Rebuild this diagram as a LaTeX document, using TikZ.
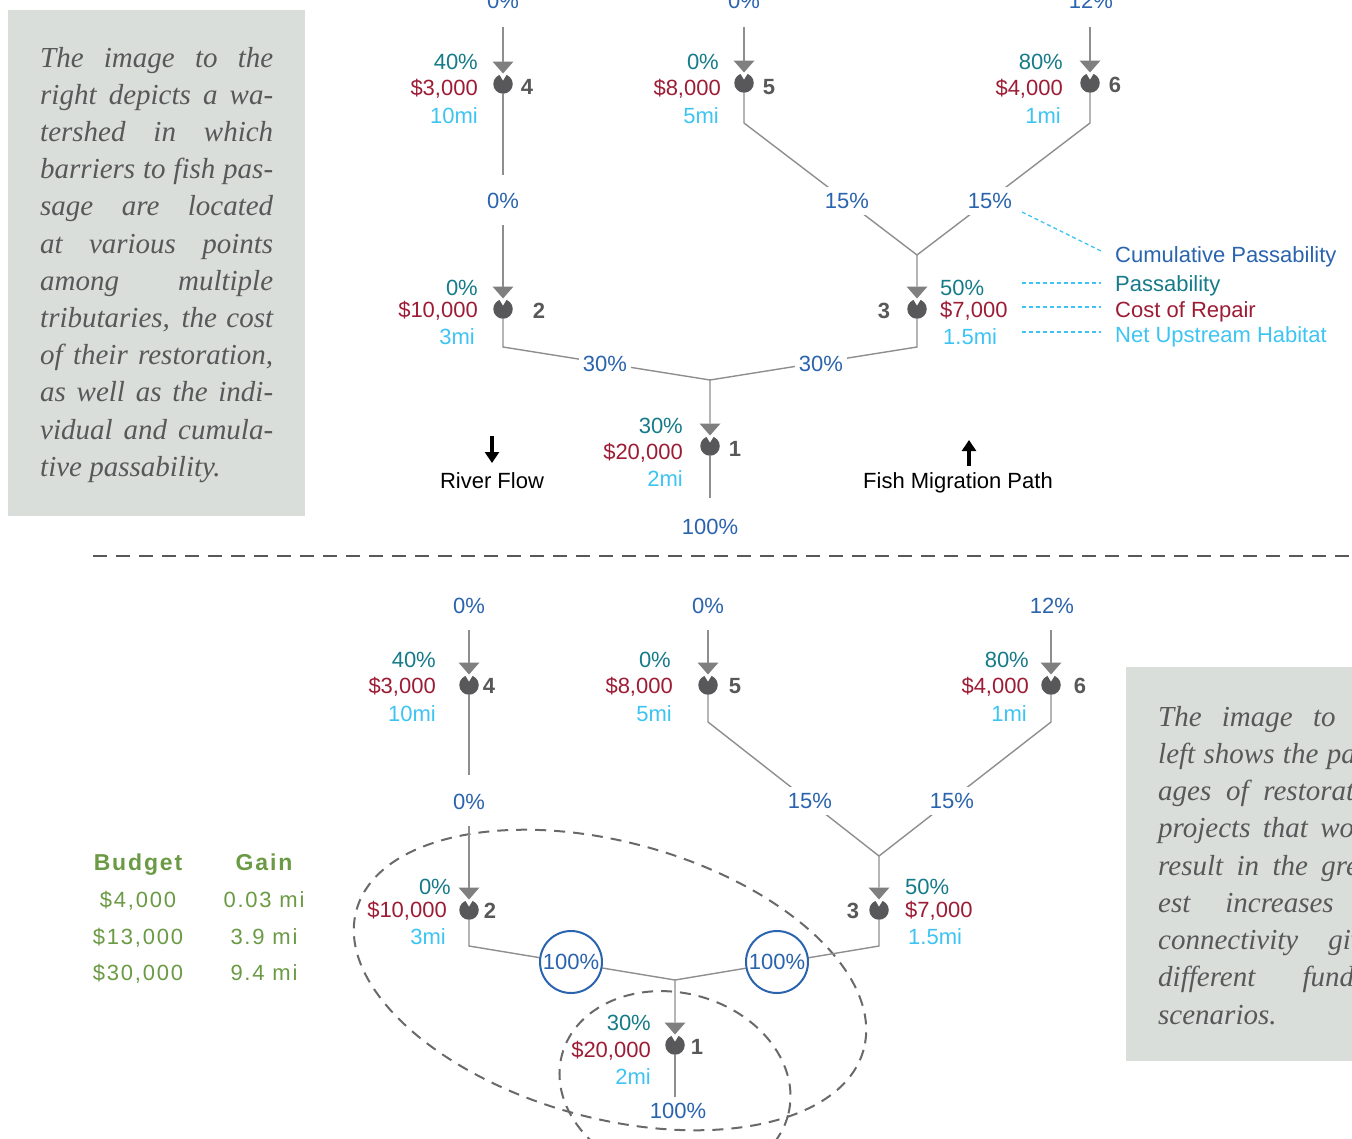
\documentclass[tikz,border=0pt]{standalone}
\usepackage{fontspec}
\setmainfont{Liberation Sans}
\newfontfamily\boxfont{Liberation Serif}
\newfontfamily\tabfont{Liberation Sans}[LetterSpace=8]
\usetikzlibrary{calc,arrows.meta}
\definecolor{cumblue}{HTML}{2A63AE}
\definecolor{passteal}{HTML}{167B89}
\definecolor{costred}{HTML}{9D1C35}
\definecolor{habblue}{HTML}{3DC4F2}
\definecolor{nodegray}{HTML}{58585A}
\definecolor{linegray}{HTML}{8E8E8E}
\definecolor{trigray}{HTML}{7F7F80}
\definecolor{boxfill}{HTML}{D9DEDA}
\definecolor{boxtext}{HTML}{58585A}
\definecolor{budgetgreen}{HTML}{6B9A45}
\newcommand\lab{\fontsize{22}{26}\selectfont}
\newcommand\jl[1]{\hbox to 233pt{\spaceskip=0pt plus 1fil\relax #1}}
\newcommand\nl[1]{\hbox{#1}}
\newcommand\barrier[3]{%
  \node[barrierdot] (#1) at (#2,#3) {};
  \fill[white] (#2-12.5,#3-24) -- (#2+12.5,#3-24) -- (#2,#3-3.5) -- cycle;
  \fill[trigray] (#2-10.5,#3-22.5) -- (#2+10.5,#3-22.5) -- (#2,#3-10.5) -- cycle;
  \coordinate (#1t) at (#2,#3-22.5);
}
\tikzset{
  barrierdot/.style={circle, fill=nodegray, minimum size=19.5, inner sep=0},
  ln/.style={draw=linegray, line width=1.4},
  cp/.style={font=\lab, text=cumblue, inner sep=0},
  ps/.style={font=\lab, text=passteal, inner sep=0},
  cr/.style={font=\lab, text=costred, inner sep=0},
  nh/.style={font=\lab, text=habblue, inner sep=0},
  num/.style={font=\lab\bfseries, text=nodegray, inner sep=0, anchor=base},
  online/.style={cp, fill=white, inner sep=4},
  ringed/.style={circle, draw=cumblue, line width=2, fill=white, minimum size=62, inner sep=0, font=\lab, text=cumblue},
  legline/.style={draw=habblue, line width=1.3, dash pattern=on 4 off 3},
  sep/.style={draw=nodegray, line width=2, dash pattern=on 14 off 9},
  oval/.style={draw=nodegray!90, line width=2, dash pattern=on 11 off 8},
  boxbg/.style={fill=boxfill, inner sep=0, anchor=north west},
  boxtxt/.style={anchor=base west, inner sep=0, text=boxtext, font=\boxfont\itshape\fontsize{29}{37}\selectfont},
  tab/.style={anchor=base, inner sep=0, text=budgetgreen, font=\tabfont\fontsize{22}{26}\selectfont},
  flow/.style={line width=3.6, -{Triangle[width=14pt,length=11pt]}},
  plain/.style={font=\lab, text=black, inner sep=0, anchor=base},
}
\begin{document}
\begin{tikzpicture}[x=1pt,y=-1pt]
\clip (0,0) rectangle (1352,1138);

% ---------------- left text box
\node[boxbg, minimum width=297, minimum height=506] (leftbox) at (8,10) {};
\foreach \t [count=\i from 0] in {%
  {\jl{The image to the}},{\jl{right depicts a wa-}},{\jl{tershed in which}},
  {\jl{barriers to fish pas-}},{\jl{sage are located}},{\jl{at various points}},
  {\jl{among multiple}},{\jl{tributaries, the cost}},{\jl{of their restoration,}},
  {\jl{as well as the indi-}},{\jl{vidual and cumula-}},{\nl{tive passability.}}}
  \node[boxtxt] (lt\i) at (40,67+\i*37.2) {\t};

% ---------------- right text box
\node[boxbg, minimum width=297, minimum height=394] (rightbox) at (1126,667) {};
\foreach \t [count=\i from 0] in {%
  {\jl{The image to the}},{\jl{left shows the pack-}},{\jl{ages of restoration}},
  {\jl{projects that would}},{\jl{result in the great-}},{\jl{est increases in}},
  {\jl{connectivity given}},{\jl{different funding}},{\nl{scenarios.}}}
  \node[boxtxt] (rt\i) at (1158,726+\i*37.25) {\t};

% ================= TOP DIAGRAM
\barrier{tA4}{503}{84}
\barrier{tA5}{744}{83}
\barrier{tA6}{1090}{83}
\barrier{tA2}{503}{309}
\barrier{tA3}{917}{309}
\barrier{tA1}{710}{446}

\node[cp, anchor=base] (tS4) at (503,8) {0\%};
\node[cp, anchor=base] (tS5) at (744,8) {0\%};
\node[cp, anchor=base] (tS6) at (1091,8) {12\%};
\coordinate (tS4b) at (503,27);
\coordinate (tS5b) at (744,27);
\coordinate (tS6b) at (1090,27);
\draw[ln] (tS4b) -- (tA4t);
\draw[ln] (tS5b) -- (tA5t);
\draw[ln] (tS6b) -- (tA6t);

\coordinate (t4e) at (503,175);
\coordinate (t2s) at (503,225);
\draw[ln] (tA4) -- (t4e);
\draw[ln] (t2s) -- (tA2t);
\node[cp, anchor=base] (tC2) at (503,208) {0\%};

\coordinate (t5k) at (744,123);
\coordinate (t6k) at (1090,123);
\coordinate (tJ3) at (917,255);
\draw[ln] (tA5) -- (t5k) -- (tJ3) -- (tA3t);
\draw[ln] (tA6) -- (t6k) -- (tJ3);
\node[online, inner sep=6] (tC5) at (847,201) {15\%};
\node[online, inner sep=6] (tC6) at (990,201) {15\%};

\coordinate (t2k) at (503,347);
\coordinate (t3k) at (917,347);
\coordinate (tJ1) at (710,380);
\draw[ln] (tA2) -- (t2k) -- (tJ1) -- (tA1t);
\draw[ln] (tA3) -- (t3k) -- (tJ1);
\node[online] (tC2b) at (605,364) {30\%};
\node[online] (tC3b) at (821,364) {30\%};

\coordinate (tOut) at (710,498);
\draw[ln] (tA1) -- (tOut);
\node[cp, anchor=base] (tC1) at (710,534) {100\%};

% node texts (top)
\node[ps, anchor=base east] (tP4) at (478,69) {40\%};
\node[cr, anchor=base east] (tR4) at (478,95) {\$3,000};
\node[nh, anchor=base east] (tH4) at (478,123) {10mi};
\node[num] (tN4) at (527,94) {4};

\node[ps, anchor=base east] (tP5) at (719,69) {0\%};
\node[cr, anchor=base east] (tR5) at (721,95) {\$8,000};
\node[nh, anchor=base east] (tH5) at (719,123) {5mi};
\node[num] (tN5) at (769,94) {5};

\node[ps, anchor=base east] (tP6) at (1063,69) {80\%};
\node[cr, anchor=base east] (tR6) at (1063,95) {\$4,000};
\node[nh, anchor=base east] (tH6) at (1061,123) {1mi};
\node[num] (tN6) at (1115,92) {6};

\node[ps, anchor=base east] (tP2) at (478,295) {0\%};
\node[cr, anchor=base east] (tR2) at (478,317) {\$10,000};
\node[nh, anchor=base east] (tH2) at (475,344) {3mi};
\node[num] (tN2) at (539,318) {2};

\node[num] (tN3) at (884,318) {3};
\node[ps, anchor=base west] (tP3) at (940,295) {50\%};
\node[cr, anchor=base west] (tR3) at (940,317) {\$7,000};
\node[nh, anchor=base west] (tH3) at (943,344) {1.5mi};

\node[ps, anchor=base east] (tP1) at (683,433) {30\%};
\node[cr, anchor=base east] (tR1) at (683,459) {\$20,000};
\node[nh, anchor=base east] (tH1) at (683,486) {2mi};
\node[num] (tN1) at (735,456) {1};

% legend
\node[cp, anchor=base west] (legC) at (1115,262) {Cumulative Passability};
\node[ps, anchor=base west] (legP) at (1115,291) {Passability};
\node[cr, anchor=base west] (legR) at (1115,317) {Cost of Repair};
\node[nh, anchor=base west] (legH) at (1115,342) {Net Upstream Habitat};
\coordinate (lc0) at (1022,212); \coordinate (lc1) at (1103,252);
\coordinate (lp0) at (1022,283); \coordinate (lp1) at (1101,283);
\coordinate (lr0) at (1022,307); \coordinate (lr1) at (1101,307);
\coordinate (lh0) at (1022,332); \coordinate (lh1) at (1101,332);
\draw[legline] (lc0) -- (lc1);
\draw[legline] (lp0) -- (lp1);
\draw[legline] (lr0) -- (lr1);
\draw[legline] (lh0) -- (lh1);

% flow arrows
\coordinate (rf0) at (492,436); \coordinate (rf1) at (492,463);
\draw[flow] (rf0) -- (rf1);
\node[plain] (rfT) at (492,488) {River Flow};
\coordinate (fm0) at (969,466); \coordinate (fm1) at (969,440);
\draw[flow] (fm0) -- (fm1);
\node[plain] (fmT) at (958,488) {Fish Migration Path};

% separator
\coordinate (sp0) at (93,556); \coordinate (sp1) at (1352,556);
\draw[sep] (sp0) -- (sp1);

% ================= BOTTOM DIAGRAM
\draw[oval, rotate around={-15.4:(610,980)}] (610,980) ellipse [x radius=263, y radius=138];
\draw[oval, rotate around={-15:(675,1085)}] (675,1085) ellipse [x radius=117, y radius=92];

\barrier{bA4}{469}{685}
\barrier{bA5}{708}{685}
\barrier{bA6}{1051}{685}
\barrier{bA2}{469}{910}
\barrier{bA3}{879}{910}
\barrier{bA1}{675}{1045}

\node[cp, anchor=base] (bS4) at (469,613) {0\%};
\node[cp, anchor=base] (bS5) at (708,613) {0\%};
\node[cp, anchor=base] (bS6) at (1052,613) {12\%};
\coordinate (bS4b) at (469,630);
\coordinate (bS5b) at (708,630);
\coordinate (bS6b) at (1051,630);
\draw[ln] (bS4b) -- (bA4t);
\draw[ln] (bS5b) -- (bA5t);
\draw[ln] (bS6b) -- (bA6t);

\coordinate (b4e) at (469,775);
\coordinate (b2s) at (469,826);
\draw[ln] (bA4) -- (b4e);
\draw[ln] (b2s) -- (bA2t);
\node[cp, anchor=base] (bC2) at (469,809) {0\%};

\coordinate (b5k) at (708,722);
\coordinate (b6k) at (1051,722);
\coordinate (bJ3) at (879,856);
\draw[ln] (bA5) -- (b5k) -- (bJ3) -- (bA3t);
\draw[ln] (bA6) -- (b6k) -- (bJ3);
\node[online, inner sep=6] (bC5) at (810,801) {15\%};
\node[online, inner sep=6] (bC6) at (952,801) {15\%};

\coordinate (b2k) at (469,946);
\coordinate (b3k) at (879,946);
\coordinate (bJ1) at (675,980);
\draw[ln] (bA2) -- (b2k) -- (bJ1) -- (bA1t);
\draw[ln] (bA3) -- (b3k) -- (bJ1);
\node[ringed] (bC2b) at (571,962) {100\%};
\node[ringed] (bC3b) at (777,962) {100\%};

\coordinate (bOut) at (675,1097);
\draw[ln] (bA1) -- (bOut);
\node[cp, anchor=base] (bC1) at (678,1118) {100\%};

\node[ps, anchor=base east] (bP4) at (436,667) {40\%};
\node[cr, anchor=base east] (bR4) at (436,693) {\$3,000};
\node[nh, anchor=base east] (bH4) at (436,721) {10mi};
\node[num] (bN4) at (489,693) {4};

\node[ps, anchor=base east] (bP5) at (671,667) {0\%};
\node[cr, anchor=base east] (bR5) at (673,693) {\$8,000};
\node[nh, anchor=base east] (bH5) at (672,721) {5mi};
\node[num] (bN5) at (735,693) {5};

\node[ps, anchor=base east] (bP6) at (1029,667) {80\%};
\node[cr, anchor=base east] (bR6) at (1029,693) {\$4,000};
\node[nh, anchor=base east] (bH6) at (1027,721) {1mi};
\node[num] (bN6) at (1080,693) {6};

\node[ps, anchor=base east] (bP2) at (451,894) {0\%};
\node[cr, anchor=base east] (bR2) at (447,917) {\$10,000};
\node[nh, anchor=base east] (bH2) at (446,944) {3mi};
\node[num] (bN2) at (490,918) {2};

\node[num] (bN3) at (853,918) {3};
\node[ps, anchor=base west] (bP3) at (905,894) {50\%};
\node[cr, anchor=base west] (bR3) at (905,917) {\$7,000};
\node[nh, anchor=base west] (bH3) at (908,944) {1.5mi};

\node[ps, anchor=base east] (bP1) at (651,1030) {30\%};
\node[cr, anchor=base east] (bR1) at (651,1057) {\$20,000};
\node[nh, anchor=base east] (bH1) at (651,1084) {2mi};
\node[num] (bN1) at (697,1054) {1};

% budget table
\node[tab, font=\tabfont\fontsize{23}{26}\selectfont\bfseries] (thB) at (138,870) {Budget};
\node[tab, font=\tabfont\fontsize{23}{26}\selectfont\bfseries] (thG) at (264,870) {Gain};
\node[tab] (tb1) at (138,907) {\$4,000};
\node[tab] (tg1) at (264,907) {0.03 mi};
\node[tab] (tb2) at (138,944) {\$13,000};
\node[tab] (tg2) at (264,944) {3.9 mi};
\node[tab] (tb3) at (138,980) {\$30,000};
\node[tab] (tg3) at (264,980) {9.4 mi};
\end{tikzpicture}
\end{document}
